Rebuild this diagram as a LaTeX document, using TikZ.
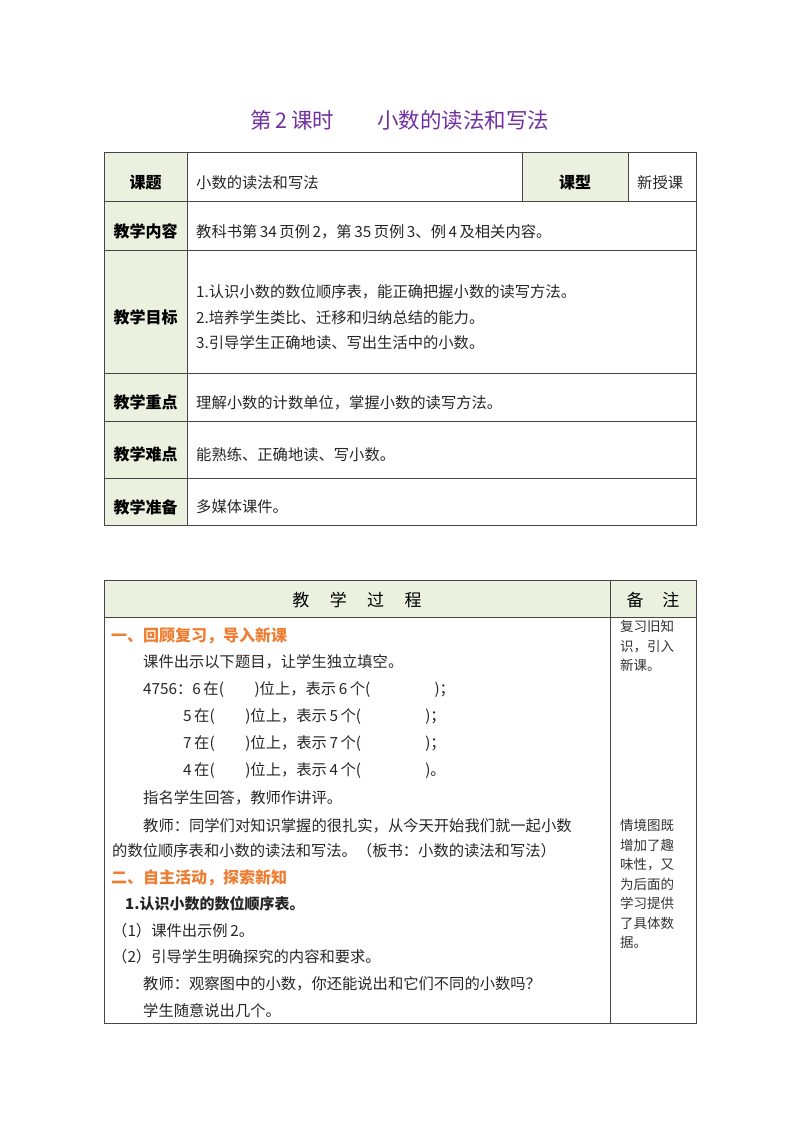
\documentclass[tikz,border=0pt]{standalone}
\usepackage{fontspec}
\setmainfont{Noto Sans CJK SC}
\definecolor{ttl}{RGB}{112,48,160}
\definecolor{hd}{RGB}{237,125,49}
\definecolor{lab}{RGB}{235,241,222}
\definecolor{grid}{RGB}{70,70,70}
\begin{document}
\begin{tikzpicture}[x=1pt,y=-1pt,
  body/.style={anchor=base west,inner sep=0,font=\fontsize{15.3}{16}\selectfont,text=black!85},
  labl/.style={anchor=center,inner sep=0,font=\fontsize{16}{16}\bfseries\selectfont},
  rem/.style={anchor=north west,inner sep=0,align=left,font=\fontsize{13.5}{19.5}\selectfont,text=black!80},
  head/.style={anchor=base west,inner sep=0,font=\fontsize{16}{16}\bfseries\selectfont,text=hd},
  ln/.style={draw=grid,line width=0.9pt}]
\useasboundingbox (0,0) rectangle (800,1132);
\node[anchor=center,text=ttl,font=\fontsize{21.5}{22}\selectfont] (title) at (400,120) {第\,2\,课时\hspace{2em}小数的读法和写法};
% table 1
\fill[lab] (104,152) rectangle (187,525);
\fill[lab] (522,152) rectangle (628,201);
\draw[ln] (104,152) rectangle (696,525);
\foreach \y in {201,250,373,421,478} \draw[ln] (104,\y) -- (696,\y);
\draw[ln] (187,152) -- (187,525);
\draw[ln] (522,152) -- (522,201);
\draw[ln] (628,152) -- (628,201);
\node[labl] (l1) at (145.5,182) {课题};
\node[labl] (l2) at (145.5,231) {教学内容};
\node[labl] (l3) at (145.5,317) {教学目标};
\node[labl] (l4) at (145.5,402) {教学重点};
\node[labl] (l5) at (145.5,454) {教学难点};
\node[labl] (l6) at (145.5,507) {教学准备};
\node[labl] (l7) at (575,182) {课型};
\node[body] (c1) at (196,188) {小数的读法和写法};
\node[body] (c7) at (637,188) {新授课};
\node[body] (c2) at (196,237) {教科书第\,34\,页例\,2，第\,35\,页例\,3、例\,4\,及相关内容。};
\node[body] (c3a) at (196,297) {1.认识小数的数位顺序表，能正确把握小数的读写方法。};
\node[body] (c3b) at (196,323) {2.培养学生类比、迁移和归纳总结的能力。};
\node[body] (c3c) at (196,348) {3.引导学生正确地读、写出生活中的小数。};
\node[body] (c4) at (196,408) {理解小数的计数单位，掌握小数的读写方法。};
\node[body] (c5) at (196,460) {能熟练、正确地读、写小数。};
\node[body] (c6) at (196,512) {多媒体课件。};
% table 2
\fill[lab] (104,580) rectangle (696,617);
\draw[ln] (104,580) rectangle (696,1023);
\draw[ln] (104,617) -- (696,617);
\draw[ln] (610,580) -- (610,1023);
\node[labl,font=\fontsize{17}{16}\selectfont] (h1) at (357,600) {教\hspace{1.2em}学\hspace{1.2em}过\hspace{1.2em}程};
\node[labl,font=\fontsize{17}{16}\selectfont] (h2) at (653,600) {备\hspace{1.1em}注};
\node[head] (s1) at (111,641) {一、回顾复习，导入新课};
\node[body] (p1) at (143,667) {课件出示以下题目，让学生独立填空。};
\node[body] (p2) at (143,694) {4756：6\,在(\hspace{2em})位上，表示\,6\,个(\hspace{4.2em})；};
\node[body] (p3) at (183,721) {5\,在(\hspace{2em})位上，表示\,5\,个(\hspace{4.2em})；};
\node[body] (p4) at (183,748) {7\,在(\hspace{2em})位上，表示\,7\,个(\hspace{4.2em})；};
\node[body] (p5) at (183,775) {4\,在(\hspace{2em})位上，表示\,4\,个(\hspace{4.2em})。};
\node[body] (p6) at (143,803) {指名学生回答，教师作讲评。};
\node[body] (p7) at (143,831) {教师：同学们对知识掌握的很扎实，从今天开始我们就一起小数};
\node[body] (p8) at (112,856) {的数位顺序表和小数的读法和写法。（板书：小数的读法和写法）};
\node[head] (s2) at (111,883) {二、自主活动，探索新知};
\node[body,font=\fontsize{15}{16}\bfseries\selectfont] (p9) at (125,909) {1.认识小数的数位顺序表。};
\node[body] (p10) at (112,936) {（1）课件出示例\,2。};
\node[body] (p11) at (112,962) {（2）引导学生明确探究的内容和要求。};
\node[body] (p12) at (143,989) {教师：观察图中的小数，你还能说出和它们不同的小数吗？};
\node[body] (p13) at (143,1016) {学生随意说出几个。};
\node[rem] (r1) at (620,620) {复习旧知\\识，引入\\新课。};
\node[rem] (r2) at (620,819) {情境图既\\增加了趣\\味性，又\\为后面的\\学习提供\\了具体数\\据。};
\end{tikzpicture}
\end{document}
